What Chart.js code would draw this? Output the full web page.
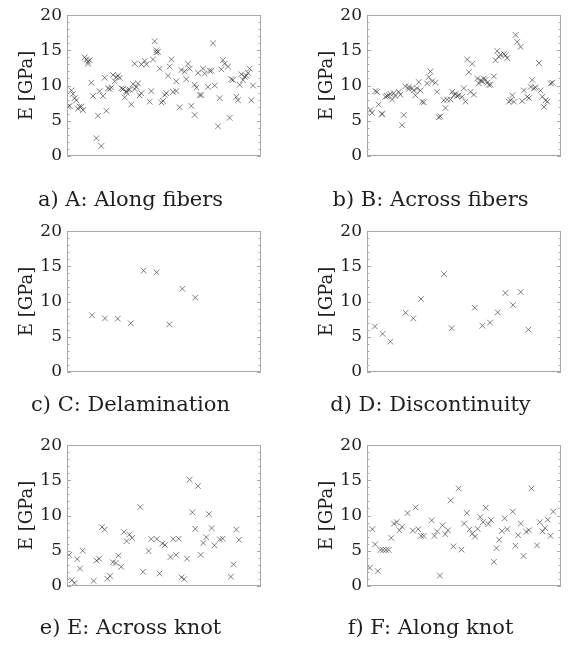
<!DOCTYPE html>
<html lang="en">
<head>
    <meta charset="UTF-8">
    <title>Stiffness by category</title>
    <script src="https://cdn.jsdelivr.net/npm/chart.js"></script>
    <style>
        body { margin: 0; background: #fff; width: 570px; height: 646px; overflow: hidden; position: relative; }
        .panel { position: absolute; width: 296px; }
    </style>
</head>
<body>
    <div class="panel" id="pa" style="left:0;top:0;height:215px"><canvas id="ca"></canvas></div>
    <div class="panel" id="pb" style="left:300px;top:0;height:215px"><canvas id="cb"></canvas></div>
    <div class="panel" id="pc" style="left:0;top:216px;height:204px"><canvas id="cc"></canvas></div>
    <div class="panel" id="pd" style="left:300px;top:216px;height:204px"><canvas id="cd"></canvas></div>
    <div class="panel" id="pe" style="left:0;top:430px;height:213px"><canvas id="ce"></canvas></div>
    <div class="panel" id="pf" style="left:300px;top:430px;height:213px"><canvas id="cf"></canvas></div>
    <script>
        // specimen number (x) and measured stiffness E in GPa (y) per category
        const aX = [1,2,3,4,5,6,7,8,9,10, 11,12,13,13,14,15,16,18,19,20, 21,22,23,24,25,26,27,28,29,30, 31,32,33,34,35,36,36,37,38,39,
                    40,41,41,42,43,44,45,45,47,48, 50,51,52,53,54,54,55,56,57,58, 59,60,61,62,63,64,66,66,68,69, 71,72,73,74,75,77,77,78,79,80,
                    81,82,83,85,86,87,88,89,91,92, 93,94,95,97,98,99,100,102,103,104, 105,106,107,108,109,110,111,112];
        const aE = [7.0,7.1,9.3,8.8,8.2,7.9,6.7,7.0,7.0,6.5, 14.0,13.7,13.1,13.4,13.6,10.4,8.5,2.5,5.7,9.2, 1.4,8.5,11.1,6.4,9.6,9.5,9.7,11.5,10.6,11.2,
                    11.4,11.1,9.6,9.5,8.3,9.2,9.0,9.4,9.4,7.3, 10.2,13.1,9.5,9.8,10.3,8.6,8.9,13.0,13.5,13.0, 7.7,9.2,13.7,16.3,15.0,14.7,14.8,12.4,7.6,7.8,
                    8.65,8.9,11.4,12.7,13.7,9.1,9.2,10.6,6.9,12.2, 12.0,10.9,13.1,12.4,7.1,5.8,10.1,9.7,11.8,8.65, 8.65,12.4,11.7,9.8,12.1,12.1,16.0,10.0,4.2,8.2,
                    12.3,13.6,13.1,12.7,5.4,10.9,10.8,8.4,7.9,10.1, 11.6,10.8,11.25,11.4,11.8,12.4,7.9,10.0];

        const bX = [2,3,5,6,7,9,9,11,12,13, 14,15,16,17,19,20,21,22,23,25, 25,27,28,29,30,31,32,33,34,36, 37,38,39,41,42,43,44,46,47,48,
                    50,51,52,53,54,55,57,58,59,60, 61,62,63,64,66,67,68,69,70,71, 72,73,74,76,77,78,79,80,82,83, 84,85,86,87,88,89,90,92,93,94,
                    96,97,98,99,100,101,103,104,105,106, 107,108,110,111];
        const bE = [6.5,6.1,9.2,9.1,7.3,6.0,5.9,8.4,8.5,8.6, 8.8,8.0,8.9,8.5,9.1,8.7,4.35,5.8,9.9,9.8, 9.5,9.6,9.3,8.6,9.6,10.5,9.3,7.7,7.6,10.3,
                    11.2,12.0,10.6,10.4,9.1,5.5,5.6,7.9,6.8,8.0, 8.0,9.1,8.6,8.8,8.5,8.6,8.4,9.6,7.7,13.7, 11.9,9.1,13.1,8.7,11.0,10.3,10.7,10.6,11.0,10.8,
                    10.4,10.1,10.1,11.3,13.6,14.9,14.1,14.4,14.5,14.3, 13.9,7.7,7.9,8.6,7.7,17.2,16.2,15.5,7.8,9.3, 8.4,8.2,9.8,10.8,9.6,9.7,13.2,9.3,8.4,6.95,
                    7.9,7.7,10.3,10.4];

        const cX = [1,2,3,4,5,6,7,8,9];
        const cE = [8.05,7.6,7.55,6.9,14.4,14.15,6.75,11.8,10.55];

        const dX = [0,1,2,4,5,6,9,10,13,14,15,16,17,18,19,20];
        const dE = [6.45,5.4,4.3,8.4,7.6,10.35,13.9,6.2,9.1,6.55,7.0,8.45,11.2,9.5,11.35,6.0];

        const eX = [0,1,2,3,4,5,9,10,11,12, 13,14,15,16,17,18,19,20,21,22, 23,26,27,29,30,32,33,34,35,37,
                    38,39,40,41,42,43,44,45,46,47, 48,49,50,51,52,53,55,56,59,60, 61,62];
        const eE = [4.4,0.8,0.4,3.8,2.45,5.0,0.7,3.6,3.85,8.35, 8.0,1.0,1.4,3.35,3.25,4.3,2.7,7.65,6.35,7.3, 6.8,11.2,2.0,4.95,6.65,6.65,1.75,6.0,5.8,4.1,
                    6.65,4.4,6.7,1.2,0.95,3.85,15.1,10.45,8.1,14.2, 4.4,6.1,6.9,10.2,8.2,5.75,6.6,6.7,1.3,3.05, 8.0,6.55];

        const fX = [0,1,2,3,4,5,6,7,8,9, 10,11,12,14,16,17,18,19,20,23, 24,25,26,27,28,29,30,31,33,34,
                    35,36,37,38,39,40,41,42,43,44, 45,46,47,48,49,50,51,53,54,55, 56,57,58,59,60,62,63,64,65,66, 67,68];
        const fE = [2.55,8.05,5.9,2.1,5.1,5.1,5.1,5.1,6.8,8.85, 9.05,7.9,8.4,10.35,7.85,11.15,8.05,7.1,7.1,9.3,
                    7.1,7.75,1.45,8.6,7.35,7.9,12.15,5.6,13.85,5.15, 8.85,10.35,8.05,7.4,7.0,8.1,9.75,9.05,11.1,8.8,
                    9.35,3.4,5.35,6.55,7.8,9.6,8.05,10.55,5.7,7.2, 8.85,4.25,7.7,7.9,13.85,5.75,9.05,7.75,8.2,9.4, 7.1,10.55];

        const captions = ['a) A: Along fibers', 'b) B: Across fibers', 'c) C: Delamination',
                          'd) D: Discontinuity', 'e) E: Across knot', 'f) F: Along knot'];
        const xRanges = [[0.4, 116.8], [0, 116.2], [-0.94, 14.1], [-1.04, 24.25], [-0.73, 70], [-1, 70.9]];
        const yMin = 0, yMax = 20, yStep = 5, yMinorStep = 1;
        const yLabel = 'E [GPa]';

        const FONT = "'DejaVu Serif', serif";
        const TEXT = '#1e1e1e';

        // box around the plot with inward ticks on both sides
        const frame = {
            id: 'frame',
            afterDatasetsDraw(chart) {
                const { ctx, chartArea: { left, right, top, bottom }, scales: { y } } = chart;
                ctx.save();
                ctx.strokeStyle = '#a8a8a8';
                ctx.lineWidth = 1;
                ctx.strokeRect(Math.round(left) + 0.5, Math.round(top) + 0.5, Math.round(right - left) - 1, Math.round(bottom - top) - 1);
                ctx.beginPath();
                for (let v = yMin; v <= yMax; v += yMinorStep) {
                    const py = Math.round(y.getPixelForValue(v)) + 0.5;
                    const len = v % yStep === 0 ? 4 : 2.5;
                    ctx.moveTo(left, py); ctx.lineTo(left + len, py);
                    ctx.moveTo(right, py); ctx.lineTo(right - len, py);
                }
                ctx.stroke();
                ctx.restore();
            }
        };

        const sets = [[aX, aE], [bX, bE], [cX, cE], [dX, dE], [eX, eE], [fX, fE]];
        const ids = ['ca', 'cb', 'cc', 'cd', 'ce', 'cf'];
        const titleTop = [32, 32, 21, 21, 30, 30];

        sets.forEach(([xs, ys], i) => {
            new Chart(document.getElementById(ids[i]), {
                type: 'scatter',
                data: { datasets: [{
                    data: xs.map((x, k) => ({ x, y: ys[k] })),
                    pointStyle: 'crossRot', pointRadius: 4, borderWidth: 1,
                    borderColor: 'rgba(45,45,45,0.6)', backgroundColor: 'rgba(45,45,45,0.6)'
                }] },
                options: {
                    responsive: true, maintainAspectRatio: false, animation: false, events: [],
                    layout: { padding: { top: 15, right: 35, left: 0, bottom: 0 } },
                    plugins: {
                        legend: { display: false }, tooltip: { enabled: false },
                        title: {
                            display: true, position: 'bottom', text: captions[i], color: TEXT,
                            font: { family: FONT, size: 21, weight: 'normal', lineHeight: 1.2 },
                            padding: { top: titleTop[i], bottom: 2 }
                        }
                    },
                    scales: {
                        x: { type: 'linear', display: false, min: xRanges[i][0], max: xRanges[i][1] },
                        y: {
                            min: yMin, max: yMax,
                            afterFit(s) { s.width = 67; },
                            grid: { display: false, drawTicks: false },
                            border: { display: false },
                            ticks: { stepSize: yStep, padding: 5, color: TEXT, font: { family: FONT, size: 17 } },
                            title: { display: true, text: yLabel, color: TEXT, padding: { top: 17, bottom: 0 },
                                     font: { family: FONT, size: 18, lineHeight: 1.2 } }
                        }
                    }
                },
                plugins: [frame]
            });
        });
    </script>
</body>
</html>
